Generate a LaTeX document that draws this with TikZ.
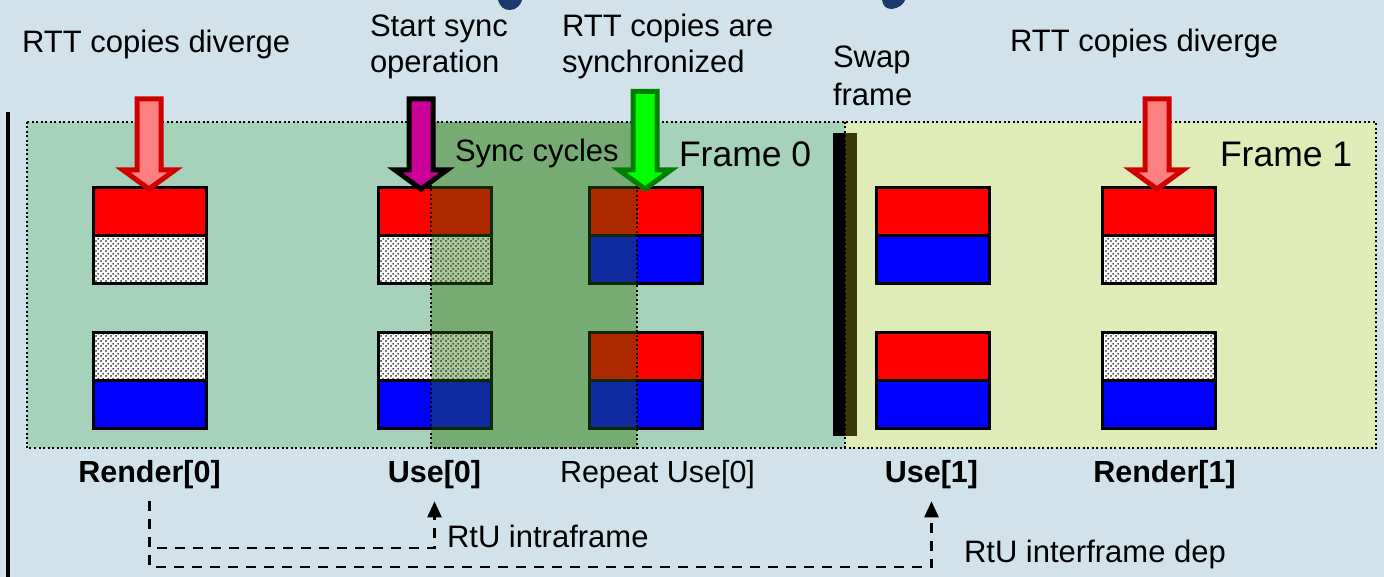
\documentclass[tikz,border=0pt]{standalone}
\usepackage{fontspec}
\setmainfont{Liberation Sans}
\usetikzlibrary{patterns,arrows.meta}

% stippled fill for undefined render targets
\pgfdeclarepatternformonly{stipple}{\pgfqpoint{0pt}{0pt}}{\pgfqpoint{5pt}{5pt}}{\pgfqpoint{5pt}{5pt}}{%
  \pgfpathcircle{\pgfqpoint{1.25pt}{1.25pt}}{1.05pt}%
  \pgfpathcircle{\pgfqpoint{3.75pt}{3.75pt}}{1.05pt}%
  \pgfusepath{fill}}

\definecolor{slide}{RGB}{210,226,234}
\definecolor{frameA}{RGB}{166,209,186}
\definecolor{frameB}{RGB}{224,236,184}
\definecolor{syncshade}{RGB}{40,110,0}
\definecolor{rtred}{RGB}{255,0,0}
\definecolor{rtblue}{RGB}{0,0,255}
\definecolor{navy}{RGB}{27,58,107}
\definecolor{swapshadow}{RGB}{58,56,10}
\definecolor{pinkfill}{RGB}{255,128,128}
\definecolor{redline}{RGB}{208,0,0}
\definecolor{magentafill}{RGB}{204,0,153}
\definecolor{limefill}{RGB}{0,255,0}
\definecolor{greenline}{RGB}{0,128,0}

\tikzset{
  every node/.style={inner sep=0pt, outer sep=0pt},
  txt/.style={font=\fontsize{31}{37}\selectfont, anchor=base west},
  lbl/.style={font=\fontsize{30.5}{36}\selectfont, anchor=base},
  framelbl/.style={font=\fontsize{35.5}{42}\selectfont, anchor=base west},
  half/.style={draw=black, line width=3pt},
  redhalf/.style={half, fill=rtred},
  bluehalf/.style={half, fill=rtblue},
  dothalf/.style={half, preaction={fill=white}, pattern=stipple, pattern color=black},
  border/.style={line width=2pt, dash pattern=on 2pt off 2.5pt},
  dep/.style={line width=2.5pt, dash pattern=on 10pt off 8pt},
  deparrow/.style={dep, -{Triangle[length=16pt,width=14pt]}},
  pics/blockarrow/.style={code={
    \path[pic actions, line width=5pt, line join=miter]
      (-12,-#1) -- (12,-#1) -- (12,-19) -- (26,-19) -- (0,0)
      -- (-26,-19) -- (-12,-19) -- cycle;}},
}

% one render target: upper and lower halves
\newcommand\rttbox[4]{%
  \draw[#3] (#1,#2) rectangle ++(113,48);
  \draw[#4] (#1,#2+48) rectangle ++(113,48);}

\begin{document}
\begin{tikzpicture}[x=1pt,y=-1pt]
  \useasboundingbox (0,0) rectangle (1384,577);
  \fill[slide] (0,0) rectangle (1384,577);

  % remnants of the heading at the top edge
  \fill[navy] (498,0) .. controls (500,7) and (504,10) .. (510,10)
    .. controls (516,10) and (521,5) .. (522,0) -- cycle;
  \fill[navy] (882,0) .. controls (883,6) and (886,9) .. (892,9)
    .. controls (899,8) and (904,4) .. (905,0) -- cycle;

  % time axis on the left
  \draw[line width=4pt] (8,112) -- (8,577);

  % frame areas
  \fill[frameA] (27,122) rectangle (845,448);
  \fill[frameB] (845,122) rectangle (1376,448);

  % render targets, top and bottom copies
  \rttbox{93}{188}{redhalf}{dothalf}
  \rttbox{93}{332}{dothalf}{bluehalf}
  \rttbox{378}{188}{redhalf}{dothalf}
  \rttbox{378}{332}{dothalf}{bluehalf}
  \rttbox{589}{188}{redhalf}{bluehalf}
  \rttbox{589}{332}{redhalf}{bluehalf}
  \rttbox{876}{188}{redhalf}{bluehalf}
  \rttbox{876}{332}{redhalf}{bluehalf}
  \rttbox{1102}{188}{redhalf}{dothalf}
  \rttbox{1102}{332}{dothalf}{bluehalf}

  % sync cycles band
  \fill[syncshade, opacity=0.38] (431,122) rectangle (637,448);
  \draw[border] (431,122) -- (431,448) -- (637,448) -- (637,122);

  % swap frame bar
  \fill[black] (833,133) rectangle (845,436);
  \fill[swapshadow] (845,133) rectangle (857,436);

  % frame borders
  \draw[border] (27,122) rectangle (1376,448);
  \draw[border] (845,122) -- (845,448);

  % event arrows
  \pic[fill=pinkfill, draw=redline] at (149,189) {blockarrow=90};
  \pic[fill=magentafill, draw=black] at (421,189) {blockarrow=90};
  \pic[fill=limefill, draw=greenline] at (645,189) {blockarrow=97.5};
  \pic[fill=pinkfill, draw=redline] at (1157,189) {blockarrow=90};

  % event captions
  \node[txt] (div0) at (22,53) {RTT copies diverge};
  \node[txt] (start1) at (370,37) {Start sync};
  \node[txt] (start2) at (370,73) {operation};
  \node[txt] (syncd1) at (562,37) {RTT copies are};
  \node[txt] (syncd2) at (562,73) {synchronized};
  \node[txt] (swap1) at (833,68) {Swap};
  \node[txt] (swap2) at (833,106) {frame};
  \node[txt] (div1) at (1010,52) {RTT copies diverge};
  \node[txt] (cycles) at (455,162) {Sync cycles};
  \node[framelbl] (f0) at (679,167) {Frame 0};
  \node[framelbl] (f1) at (1220,167) {Frame 1};

  % pass labels
  \node[lbl] (r0) at (149.5,482) {\bfseries Render[0]};
  \node[lbl] (u0) at (434.5,482) {\bfseries Use[0]};
  \node[lbl] (rep) at (657.5,482) {Repeat Use[0]};
  \node[lbl] (u1) at (931.5,482) {\bfseries Use[1]};
  \node[lbl] (r1) at (1164.5,482) {\bfseries Render[1]};

  % render-to-use dependencies
  \coordinate (lvl1) at (0,548);
  \coordinate (lvl2) at (0,567);
  \draw[deparrow] ([yshift=-13pt]r0.south) |- (u0.south |- lvl1) -- ([yshift=-13pt]u0.south);
  \draw[deparrow] ([yshift=-13pt]r0.south) |- (u1.south |- lvl2) -- ([yshift=-13pt]u1.south);
  \node[txt] (intra) at (447,547) {RtU intraframe};
  \node[txt] (inter) at (964,562) {RtU interframe dep};
\end{tikzpicture}
\end{document}
